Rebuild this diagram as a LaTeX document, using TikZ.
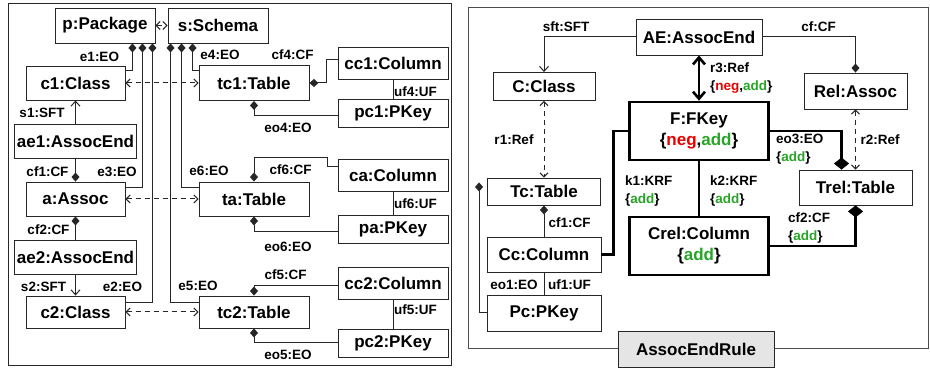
\documentclass[tikz,border=0pt]{standalone}
\usepackage{fontspec}
\setmainfont{Liberation Sans}
\usepackage{tikz}
\usetikzlibrary{arrows.meta}
\definecolor{negred}{RGB}{235,0,0}
\definecolor{addgreen}{RGB}{40,165,40}
\newcommand{\negtxt}{\textcolor{negred}{neg}}
\newcommand{\addtxt}{\textcolor{addgreen}{add}}

\begin{document}
\begin{tikzpicture}[x=1pt, y=-1pt,
	obj/.style={draw=black!85, line width=0.9pt, fill=white, inner xsep=0.5pt, inner ysep=0pt, font=\fontsize{17pt}{21pt}\selectfont\bfseries},
	objx/.style={obj, draw=black, line width=2.6pt, align=center},
	lbl/.style={inner sep=0pt, font=\fontsize{13.5pt}{18pt}\selectfont\bfseries},
	conn/.style={draw=black!85, line width=1pt},
	comp/.style={conn, {Diamond[length=9pt,width=8pt]}-},
	sft/.style={conn, -{Straight Barb[length=5pt,width=9pt]}},
	ref/.style={conn, dash pattern=on 5pt off 4pt, {Straight Barb[length=4pt,width=8pt]}-{Straight Barb[length=4pt,width=8pt]}},
	thickconn/.style={draw=black, line width=2.6pt},
	thickcomp/.style={thickconn, {Diamond[length=12pt,width=15pt,line width=0.4pt]}-}]
	\useasboundingbox (0,0) rectangle (930,371);
	\draw[black!85, line width=0.9pt] (8,3) rectangle (451,365);
	\draw[black!70, line width=0.9pt] (468,7) rectangle (928,348);

	% left: instance model
	\node[obj, minimum width=100pt, minimum height=35pt] (pkg) at (105,25.5) {p:Package};
	\node[obj, minimum width=100pt, minimum height=35pt] (sch) at (218,25.5) {s:Schema};
	\node[obj, minimum width=99pt, minimum height=34pt] (c1) at (75.5,83) {c1:Class};
	\node[obj, minimum width=122pt, minimum height=34pt] (ae1) at (75.5,141) {ae1:AssocEnd};
	\node[obj, minimum width=99pt, minimum height=34pt] (asc) at (75.5,199) {a:Assoc};
	\node[obj, minimum width=122pt, minimum height=34pt] (ae2) at (75.5,257) {ae2:AssocEnd};
	\node[obj, minimum width=99pt, minimum height=32pt] (c2) at (75.5,312) {c2:Class};
	\node[obj, minimum width=110pt, minimum height=35pt] (tc1) at (254,83) {tc1:Table};
	\node[obj, minimum width=110pt, minimum height=34pt] (ta) at (254,199) {ta:Table};
	\node[obj, minimum width=110pt, minimum height=32pt] (tc2) at (254,312) {tc2:Table};
	\node[obj, minimum width=110pt, minimum height=32pt] (cc1) at (393,63) {cc1:Column};
	\node[obj, minimum width=110pt, minimum height=28pt] (pc1) at (393,113) {pc1:PKey};
	\node[obj, minimum width=110pt, minimum height=32pt] (ca) at (393,175) {ca:Column};
	\node[obj, minimum width=110pt, minimum height=28pt] (pa) at (393,229) {pa:PKey};
	\node[obj, minimum width=110pt, minimum height=32pt] (cc2) at (393,283) {cc2:Column};
	\node[obj, minimum width=110pt, minimum height=28pt] (pc2) at (393,343) {pc2:PKey};

	\draw[ref] (pkg.east) -- (sch.west);
	\draw[ref] (c1.east) -- (tc1.west);
	\draw[ref] (asc.east) -- (ta.west);
	\draw[ref] (c2.east) -- (tc2.west);
	\draw[comp] ([xshift=-23pt]pkg.south east) |- ([yshift=12pt]c1.east);
	\draw[comp] ([xshift=-13pt]pkg.south east) |- ([yshift=11pt]asc.east);
	\draw[comp] ([xshift=-3pt]pkg.south east) |- ([yshift=9pt]c2.east);
	\draw[comp] ([xshift=25pt]sch.south west) |- ([yshift=12pt]tc1.west);
	\draw[comp] ([xshift=14pt]sch.south west) |- ([yshift=11pt]ta.west);
	\draw[comp] ([xshift=3pt]sch.south west) |- ([yshift=9pt]tc2.west);
	\draw[sft] (ae1.north) -- (c1.south);
	\draw[comp] (asc.north) -- (ae1.south);
	\draw[comp] (asc.south) -- (ae2.north);
	\draw[sft] (ae2.south) -- (c2.north);
	\draw[comp] (tc1.east) -- ++(17,0) |- ([yshift=3pt]cc1.west);
	\draw[comp] (tc1.south) |- ([yshift=-3pt]pc1.west);
	\coordinate (cf6bend) at (327,158);
	\draw[comp] (ta.north) |- (cf6bend) |- ([yshift=8pt]ca.west);
	\draw[comp] (ta.south) |- ([yshift=-3pt]pa.west);
	\draw[comp] (tc2.north) |- ([yshift=-3pt]cc2.west);
	\draw[comp] (tc2.south) |- (pc2.west);
	\draw[conn] (cc1.south) -- (pc1.north);
	\draw[conn] (ca.south) -- (pa.north);
	\draw[conn] (cc2.south) -- (pc2.north);

	\node[lbl] (l-e1) at (99.5,57) {e1:EO};
	\node[lbl] (l-e3) at (117,172) {e3:EO};
	\node[lbl] (l-e2) at (122.5,287) {e2:EO};
	\node[lbl] (l-e4) at (220,55) {e4:EO};
	\node[lbl] (l-e6) at (209,171) {e6:EO};
	\node[lbl] (l-e5) at (198,286) {e5:EO};
	\node[lbl] (l-s1) at (42,113) {s1:SFT};
	\node[lbl] (l-cf1) at (47.5,172) {cf1:CF};
	\node[lbl] (l-cf2) at (48.5,230) {cf2:CF};
	\node[lbl] (l-s2) at (43.5,287) {s2:SFT};
	\node[lbl] (l-cf4) at (292.5,55) {cf4:CF};
	\node[lbl] (l-uf4) at (415.5,92) {uf4:UF};
	\node[lbl] (l-eo4) at (288,128) {eo4:EO};
	\node[lbl] (l-cf6) at (290.5,170) {cf6:CF};
	\node[lbl] (l-uf6) at (415.5,204) {uf6:UF};
	\node[lbl] (l-eo6) at (288,247) {eo6:EO};
	\node[lbl] (l-cf5) at (285.5,275) {cf5:CF};
	\node[lbl] (l-uf5) at (415.5,310) {uf5:UF};
	\node[lbl] (l-eo5) at (288,355) {eo5:EO};

	% right: rule
	\node[obj, minimum width=126pt, minimum height=36pt] (ae) at (699,37) {AE:AssocEnd};
	\node[obj, minimum width=102pt, minimum height=28pt] (cls) at (544,86.5) {C:Class};
	\node[obj, minimum width=103pt, minimum height=36pt] (rel) at (855.5,91) {Rel:Assoc};
	\node[objx, minimum width=139pt, minimum height=58pt] (fk) at (699,131) {F:FKey\\\{\negtxt,\addtxt\}};
	\node[obj, minimum width=113pt, minimum height=27pt] (tc) at (544,191.5) {Tc:Table};
	\node[obj, minimum width=114pt, minimum height=35pt] (cc) at (544,254.5) {Cc:Column};
	\node[obj, minimum width=114pt, minimum height=36pt] (pc) at (544,313) {Pc:PKey};
	\node[objx, minimum width=139pt, minimum height=58pt] (crel) at (699,246) {Crel:Column\\\{\addtxt\}};
	\node[obj, minimum width=113pt, minimum height=35pt] (trel) at (855.5,187.5) {Trel:Table};
	\node[obj, fill=black!10, minimum width=156pt, minimum height=36pt] (rule) at (696,349) {AssocEndRule};

	\draw[sft] (ae.west) -| (cls.north);
	\draw[comp] (rel.north) |- (ae.east);
	\draw[thickconn, {Straight Barb[length=7pt,width=12pt]}-{Straight Barb[length=7pt,width=12pt]}] (ae.south) -- (fk.north);
	\draw[ref] (cls.south) -- (tc.north);
	\draw[ref] (rel.south) -- (trel.north);
	\draw[comp] (tc.south) -- (cc.north);
	\draw[conn] (cc.south) -- (pc.north);
	\coordinate (eo1end) at ([xshift=-8pt,yshift=9pt]tc.west);
	\draw[comp] (eo1end) |- (pc.west);
	\draw[thickconn] (fk.west) -- ++(-15,0) |- (cc.east);
	\draw[thickconn] (fk.south) -- (crel.north);
	\draw[thickcomp] ([xshift=-14pt]trel.north) |- (fk.east);
	\draw[thickcomp] (trel.south) |- (crel.east);

	\node[lbl] (l-sft) at (566,27) {sft:SFT};
	\node[lbl] (l-cf) at (818.5,27) {cf:CF};
	\node[lbl, anchor=west, align=left] (l-r3) at (710,78) {r3:Ref\\\{\negtxt,\addtxt\}};
	\node[lbl] (l-r1) at (514,140) {r1:Ref};
	\node[lbl] (l-r2) at (880,140) {r2:Ref};
	\node[lbl, anchor=west, align=left] (l-eo3) at (776,149) {eo3:EO\\\{\addtxt\}};
	\node[lbl, anchor=west, align=left] (l-k1) at (625,191) {k1:KRF\\\{\addtxt\}};
	\node[lbl, anchor=west, align=left] (l-k2) at (710,191) {k2:KRF\\\{\addtxt\}};
	\node[lbl] (l-cf1r) at (569.5,223) {cf1:CF};
	\node[lbl] (l-eo1) at (514,285) {eo1:EO};
	\node[lbl] (l-uf1) at (569.5,285) {uf1:UF};
	\node[lbl, anchor=west, align=left] (l-cf2r) at (788,228) {cf2:CF\\\{\addtxt\}};
\end{tikzpicture}
\end{document}
